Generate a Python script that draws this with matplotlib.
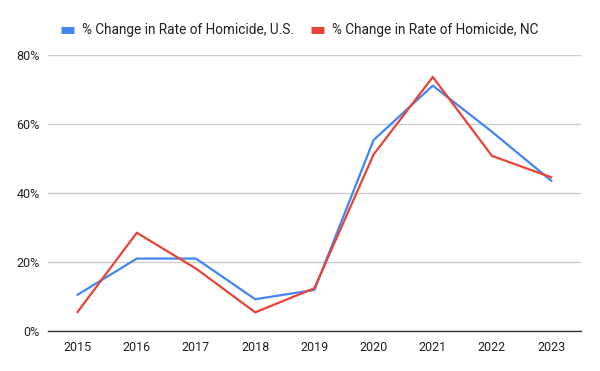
import matplotlib
matplotlib.use("Agg")
import matplotlib.pyplot as plt
from matplotlib.ticker import PercentFormatter

# data (percent)
years = ["2015", "2016", "2017", "2018", "2019", "2020", "2021", "2022", "2023"]
us_change = [10.5, 21.0, 21.0, 9.2, 11.9, 55.4, 71.2, 57.8, 43.6]
nc_change = [5.5, 28.5, 18.1, 5.4, 12.4, 51.2, 73.7, 50.8, 44.6]

us_label = "% Change in Rate of Homicide, U.S."
nc_label = "% Change in Rate of Homicide, NC"

plt.rcParams["font.family"] = ["Roboto", "DejaVu Sans"]

fig = plt.figure(figsize=(6, 3.71), dpi=100)
ax = fig.add_axes([0.08, 0.108, 0.888, 0.743])

x = range(len(years))
ax.plot(x, us_change, color="#4285F4", linewidth=1.6, label=us_label)
ax.plot(x, nc_change, color="#EA4335", linewidth=1.6, label=nc_label)

ax.set_xlim(-0.5, len(years) - 0.5)
ax.set_ylim(0, 80)
ax.set_xticks(list(x))
ax.set_xticklabels(years)
ax.set_yticks([0, 20, 40, 60, 80])
ax.yaxis.set_major_formatter(PercentFormatter(decimals=0))

ax.grid(axis="y", color="#cccccc", linewidth=1)
ax.set_axisbelow(True)
for side in ["top", "right", "left"]:
    ax.spines[side].set_visible(False)
ax.spines["bottom"].set_color("#333333")
ax.spines["bottom"].set_linewidth(1)
ax.spines["bottom"].set_zorder(3)
ax.tick_params(length=0, labelsize=9, colors="#222222")
ax.tick_params(axis="y", pad=6)
ax.tick_params(axis="x", pad=7)

leg = fig.legend(loc="center", bbox_to_anchor=(0.5, 0.919), ncol=2, frameon=False,
                 fontsize=9.8, handlelength=0.95, handleheight=0.5, columnspacing=1.25,
                 handletextpad=0.6)
for line in leg.get_lines():
    line.set_linewidth(5)
    line.set_solid_capstyle("butt")
for t in leg.get_texts():
    t.set_color("#222222")

fig.savefig("out.png", dpi=100)
